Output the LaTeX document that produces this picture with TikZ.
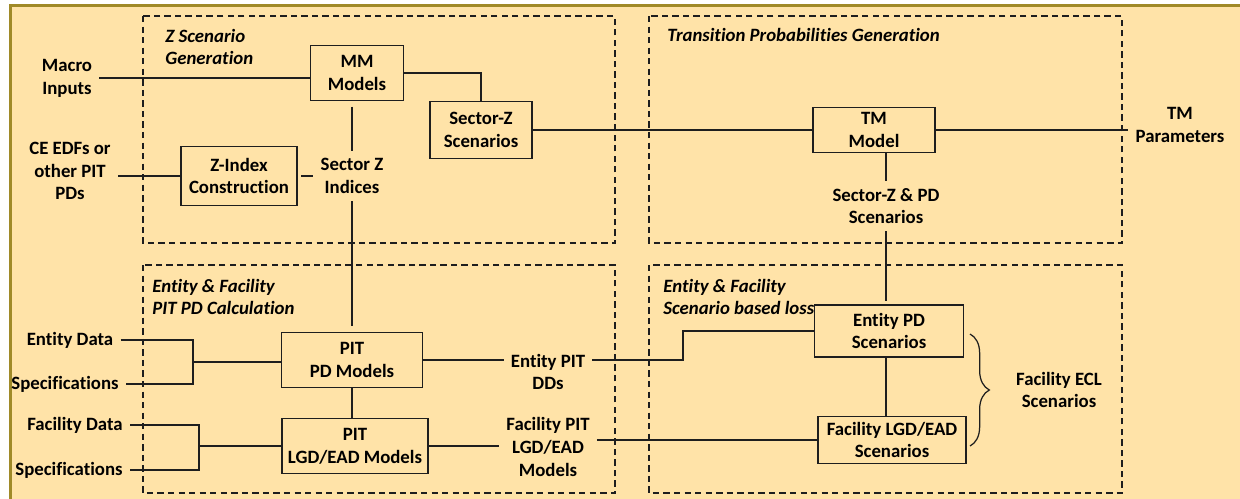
\documentclass[tikz,border=0pt]{standalone}
\usepackage{fontspec}
\setmainfont{Carlito}[Ligatures=CommonOff]
\usetikzlibrary{decorations.pathreplacing}

\definecolor{sheet}{RGB}{255,227,168}
\definecolor{rim}{RGB}{160,138,40}
\definecolor{ink}{RGB}{30,30,30}

\begin{document}
\begin{tikzpicture}[x=0.02cm, y=-0.02cm,
  font=\fontsize{10.7}{13}\selectfont\bfseries,
  box/.style={draw=ink, line width=1pt, align=center, inner sep=1pt},
  txt/.style={align=center, inner sep=4pt},
  group/.style={draw=ink, line width=1.4pt, dash pattern=on 3.6pt off 2.4pt},
  title/.style={font=\fontsize{10.7}{13}\selectfont\bfseries\itshape,
    align=left, anchor=west, inner sep=0pt},
  link/.style={draw=ink, line width=0.9pt}]

  % Fix the page to the picture size
  \useasboundingbox (0,0) rectangle (1240,498);

  % Draw the sheet with its rim on top and left
  \fill[sheet] (10,5) rectangle (1250,510);
  \draw[rim, line width=1.2pt] (10.5,510) -- (10.5,5.5) -- (1250,5.5);

  % Draw the four dashed groups
  \draw[group] (143,16) rectangle (615,243);
  \draw[group] (649,16) rectangle (1122,243);
  \draw[group] (143,265) rectangle (615,493);
  \draw[group] (649,265) rectangle (1122,493);

  % Add the group titles
  \node[title] (t1) at (165,47) {Z Scenario\\Generation};
  \node[title] (t2) at (667,35) {Transition Probabilities Generation};
  \node[title] (t3) at (152,297) {Entity \& Facility\\PIT PD Calculation};
  \node[title] (t4) at (663,297) {Entity \& Facility\\Scenario based loss};

  % Draw the model boxes
  \node[box, minimum width=1.86cm, minimum height=1.10cm] (mm) at (357,73) {MM\\Models};
  \node[box, minimum width=2.04cm, minimum height=1.14cm] (secz) at (481,130) {Sector-Z\\Scenarios};
  \node[box, minimum width=2.32cm, minimum height=1.18cm] (zidx) at (239,176) {Z-Index\\Construction};
  \node[box, minimum width=2.44cm, minimum height=0.90cm] (tm) at (874,130) {TM\\Model};
  \node[box, minimum width=2.82cm, minimum height=1.10cm] (pitpd) at (352,360) {PIT\\PD Models};
  \node[box, minimum width=2.92cm, minimum height=1.10cm] (pitlgd) at (355,446) {PIT\\LGD/EAD Models};
  \node[box, minimum width=2.98cm, minimum height=1.04cm] (entpd) at (889,331) {Entity PD\\Scenarios};
  \node[box, minimum width=2.96cm, minimum height=0.94cm] (faclgd) at (892,440) {Facility LGD/EAD\\Scenarios};

  % Add the free labels
  \node[txt] (macro) at (67,78) {Macro\\Inputs};
  \node[txt] (ceedf) at (70,171) {CE EDFs or\\other PIT\\PDs};
  \node[txt] (sidx) at (352,176) {Sector Z\\Indices};
  \node[txt] (szpd) at (886,206) {Sector-Z \& PD\\Scenarios};
  \node[txt] (tmpar) at (1180,125) {TM\\Parameters};
  \node[txt] (entdata) at (70,340) {Entity Data};
  \node[txt] (spec1) at (65,384) {Specifications};
  \node[txt] (facdata) at (75,425) {Facility Data};
  \node[txt] (spec2) at (69,470) {Specifications};
  \node[txt] (entdd) at (548,372) {Entity PIT\\DDs};
  \node[txt] (facpit) at (548,447) {Facility PIT\\LGD/EAD\\Models};
  \node[txt] (ecl) at (1059,390) {Facility ECL\\Scenarios};

  % Junctions of the input brackets and the step
  \coordinate (j1) at (193,362);
  \coordinate (j2) at (199,446);
  \coordinate (bend) at (683,0);

  % Draw the connectors of the upper half
  \draw[link] (macro.east) -- (macro.east -| mm.west);
  \draw[link] (mm.east) -| (secz.north);
  \draw[link, shorten <=3pt] (mm.south -| sidx.north) -- (sidx.north);
  \draw[link] (ceedf.east |- zidx.west) -- (zidx.west);
  \draw[link, shorten <=2pt] (zidx.east) -- (sidx.west);
  \draw[link] (secz.east) -- (tm.west);
  \draw[link] (tm.east) -- (tm.east -| tmpar.west);
  \draw[link] (tm.south -| szpd.north) -- (szpd.north);

  % Draw the links down to the lower half
  \draw[link, shorten >=3pt] (sidx.south) -- (sidx.south |- pitpd.north);
  \draw[link, shorten >=2pt] (szpd.south) -- (szpd.south |- entpd.north);

  % Draw the connectors of the lower half
  \draw[link] (entdata.east) -| (j1) |- (spec1.east);
  \draw[link] (j1) -- (pitpd.west |- j1);
  \draw[link] (facdata.east) -| (j2) |- (spec2.east);
  \draw[link] (j2) -- (pitlgd.west |- j2);
  \draw[link] (pitpd.south) -- (pitpd.south |- pitlgd.north);
  \draw[link] (pitpd.east) -- (pitpd.east -| entdd.west);
  \draw[link] (entdd.east |- pitpd.east) -| (bend |- entpd.west) -- (entpd.west);
  \draw[link] (pitlgd.east) -- (pitlgd.east -| facpit.west);
  \draw[link] (facpit.east |- faclgd.west) -- (faclgd.west);
  \draw[link] (entpd.south -| szpd.south) -- (szpd.south |- faclgd.north);

  % Draw the brace that joins the two scenario boxes
  \draw[link, line width=0.7pt, decorate, decoration={brace, amplitude=11pt}]
    (970,334) -- (970,446);

\end{tikzpicture}
\end{document}
